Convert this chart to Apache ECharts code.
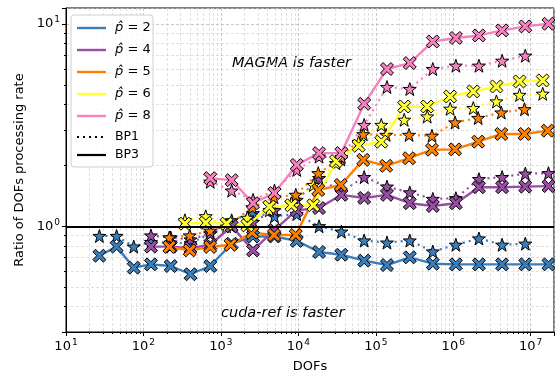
<!DOCTYPE html>
<html>
<head>
<meta charset="utf-8">
<script src="https://cdn.jsdelivr.net/npm/echarts@6/dist/echarts.min.js"></script>
<style>
  html, body { margin: 0; padding: 0; background: #fff; }
  #chart { width: 555px; height: 370px; }
</style>
</head>
<body>
<div id="chart"></div>
<script>
// DOF counts per polynomial degree (meshes refined one direction at a time)
const dofsP2 = [27, 45, 75, 125, 225, 405, 729, 1377, 2601, 4913, 9537, 18513, 35937, 70785, 139425, 274625, 545025, 1081665, 2146689, 4276737, 8520321, 16974593];
const dofsP4 = [125, 225, 405, 729, 1377, 2601, 4913, 9537, 18513, 35937, 70785, 139425, 274625, 545025, 1081665, 2146689, 4276737, 8520321, 16974593];
const dofsP5 = [216, 396, 726, 1331, 2541, 4851, 9261, 18081, 35301, 68921, 136161, 269001, 531441, 1056321, 2099601, 4173281, 8320641, 16589601];
const dofsP6 = [343, 637, 1183, 2197, 4225, 8125, 15625, 30625, 60025, 117649, 232897, 461041, 912673, 1815937, 3613153, 7189057, 14303521];
const dofsP8 = [729, 1377, 2601, 4913, 9537, 18513, 35937, 70785, 139425, 274625, 545025, 1081665, 2146689, 4276737, 8520321, 16974593];

// Speed-up ratios, BP3 (solid)
const bp3P2 = [0.715, 0.793, 0.624, 0.648, 0.636, 0.579, 0.636, 0.82, 0.89, 0.89, 0.846, 0.746, 0.723, 0.676, 0.643, 0.702, 0.653, 0.648, 0.648, 0.648, 0.648, 0.648];
const bp3P4 = [0.793, 0.793, 0.78, 0.81, 1.0, 0.76, 0.96, 1.20, 1.23, 1.43, 1.38, 1.43, 1.30, 1.26, 1.30, 1.56, 1.56, 1.57, 1.58];
const bp3P5 = [0.79, 0.76, 0.79, 0.81, 0.93, 0.905, 0.905, 1.51, 1.60, 2.13, 1.99, 2.17, 2.39, 2.40, 2.62, 2.86, 2.86, 2.97];
const bp3P6 = [1.03, 1.04, 1.03, 1.01, 1.25, 1.27, 1.27, 2.10, 2.50, 2.62, 3.91, 3.91, 4.38, 4.64, 4.91, 5.20, 5.26];
const bp3P8 = [1.73, 1.69, 1.30, 1.46, 2.01, 2.30, 2.30, 4.03, 5.99, 6.41, 8.2, 8.53, 8.78, 9.3, 9.73, 10.03];

// Speed-up ratios, BP1 (dotted)
const bp1P2 = [0.895, 0.895, 0.793, 0.836, 0.83, 0.824, 0.92, 1.07, 1.16, 1.12, 1.15, 1.0, 0.94, 0.85, 0.83, 0.85, 0.75, 0.81, 0.87, 0.81, 0.82];
const bp1P4 = [0.90, 0.88, 0.86, 0.92, 1.0, 1.05, 1.2, 1.35, 1.73, 1.48, 1.75, 1.57, 1.47, 1.365, 1.376, 1.71, 1.75, 1.82, 1.83];
const bp1P5 = [0.88, 0.90, 0.95, 1.03, 1.24, 1.39, 1.43, 1.83, 2.14, 2.85, 2.83, 2.83, 2.80, 3.26, 3.43, 3.65, 3.79];
const bp1P6 = [1.07, 1.12, 1.00, 1.10, 1.20, 1.30, 1.60, 2.05, 2.60, 3.17, 3.36, 3.49, 3.81, 3.84, 4.14, 4.46, 4.52];
const bp1P8 = [1.66, 1.50, 1.35, 1.50, 1.90, 2.21, 2.20, 3.17, 4.88, 4.77, 5.99, 6.22, 6.22, 6.58, 6.97];

const degreeLabels = ['2', '4', '5', '6', '8'];
const benchmarkLabels = ['BP1', 'BP3'];

const colors = ['#3a7ebb', '#984ea3', '#ff7f00', '#ffff33', '#f781bf'];
const degrees = [
  { x: dofsP2, bp3: bp3P2, bp1: bp1P2 },
  { x: dofsP4, bp3: bp3P4, bp1: bp1P4 },
  { x: dofsP5, bp3: bp3P5, bp1: bp1P5 },
  { x: dofsP6, bp3: bp3P6, bp1: bp1P6 },
  { x: dofsP8, bp3: bp3P8, bp1: bp1P8 }
];

const FONT = 'DejaVu Sans';
const crossPath = 'path://M-3,-5 L0,-2 L3,-5 L5,-3 L2,0 L5,3 L3,5 L0,2 L-3,5 L-5,3 L-2,0 L-5,-3 Z';
const starPath = 'path://M0,-10 L2.35,-3.24 L9.51,-3.09 L3.8,1.24 L5.88,8.09 L0,4 L-5.88,8.09 L-3.8,1.24 L-9.51,-3.09 L-2.35,-3.24 Z';
const DOTS = [2, 4];

function isPow10(v) {
  const l = Math.log10(v);
  return Math.abs(l - Math.round(l)) < 1e-6;
}
function powLabel(v) {
  return isPow10(v) ? '{b|10}{s|' + Math.round(Math.log10(v)) + '}' : '';
}
const powRich = {
  b: { fontFamily: FONT, fontSize: 13, color: '#000' },
  s: { fontFamily: FONT, fontSize: 9, color: '#000', padding: [0, 0, 8, 1] }
};

const series = [];
degrees.forEach((d, k) => {
  series.push({
    name: 'BP1 ' + degreeLabels[k], type: 'line', z: 3,
    data: d.x.slice(0, d.bp1.length).map((v, i) => [v, d.bp1[i]]),
    lineStyle: { color: colors[k], width: 2.2, type: DOTS },
    itemStyle: { color: colors[k], borderColor: '#000', borderWidth: 1 },
    symbol: starPath, symbolSize: 13, showSymbol: true
  });
  series.push({
    name: 'BP3 ' + degreeLabels[k], type: 'line', z: 4,
    data: d.x.map((v, i) => [v, d.bp3[i]]),
    lineStyle: { color: colors[k], width: 2.4 },
    itemStyle: { color: colors[k], borderColor: '#000', borderWidth: 1 },
    symbol: crossPath, symbolSize: 13, showSymbol: true
  });
});

// reference line at ratio 1
series.push({
  type: 'line', silent: true, symbol: 'none', z: 2, data: [],
  markLine: {
    silent: true, symbol: 'none', label: { show: false },
    lineStyle: { color: '#000', width: 2.2, type: 'solid' },
    data: [{ yAxis: 1 }]
  }
});

// legend box drawn as graphics
const legendX = 71, legendY = 15;
const legendRows = [28, 50, 72, 94, 116, 137, 155];
const legendItems = [
  { type: 'rect', shape: { x: legendX, y: legendY, width: 82, height: 152, r: 3 },
    style: { fill: 'rgba(255,255,255,0.85)', stroke: '#d0d0d0', lineWidth: 1 }, z: 100 }
];
degreeLabels.forEach((p, k) => {
  const y = legendRows[k];
  legendItems.push({ type: 'line', shape: { x1: 77, y1: y, x2: 106, y2: y },
    style: { stroke: colors[k], lineWidth: 2.4 }, z: 101 });
  legendItems.push({ type: 'text', x: 115, y: y, z: 101,
    style: { text: '{i|p̂} = ' + p, verticalAlign: 'middle', textVerticalAlign: 'middle',
      rich: { i: { font: 'italic 13px "DejaVu Sans"', fill: '#000' } },
      font: '13px "DejaVu Sans"', fill: '#000' } });
});
benchmarkLabels.forEach((b, j) => {
  const y = legendRows[5 + j];
  legendItems.push({ type: 'line', shape: { x1: 77, y1: y, x2: 106, y2: y },
    style: { stroke: '#000', lineWidth: 2.2, lineDash: j === 0 ? DOTS : null }, z: 101 });
  legendItems.push({ type: 'text', x: 115, y: y, z: 101,
    style: { text: b, verticalAlign: 'middle', textVerticalAlign: 'middle', font: '12.5px "DejaVu Sans"', fill: '#000' } });
});

const chart = echarts.init(document.getElementById('chart'), null, { renderer: 'canvas' });
chart.setOption({
  animation: false,
  grid: { left: 66, top: 8, right: 1, bottom: 38, containLabel: false, outerBoundsMode: 'none',
    show: true, borderColor: '#000', borderWidth: 1, backgroundColor: 'transparent' },
  xAxis: {
    type: 'log', logBase: 10, min: 10, max: 2e7,
    name: 'DOFs', nameLocation: 'middle', nameGap: 28,
    nameTextStyle: { fontFamily: FONT, fontSize: 13, color: '#000' },
    axisLine: { lineStyle: { color: '#000', width: 1 } },
    axisTick: { show: true, inside: false, length: 4, lineStyle: { color: '#000' } },
    minorTick: { show: true, splitNumber: 9, length: 2, lineStyle: { color: '#000' } },
    axisLabel: { margin: 6, formatter: powLabel, rich: powRich },
    splitLine: { show: true, lineStyle: { color: '#bbb', type: [3, 2], width: 0.8 } },
    minorSplitLine: { show: true, lineStyle: { color: '#ccc', type: [3, 2], width: 0.6 } }
  },
  yAxis: {
    type: 'log', logBase: 10, min: 0.3, max: 12,
    name: 'Ratio of DOFs processing rate', nameLocation: 'middle', nameGap: 32,
    nameTextStyle: { fontFamily: FONT, fontSize: 13, color: '#000' },
    axisLine: { show: true, lineStyle: { color: '#000', width: 1 } },
    axisTick: { show: true, length: 4, lineStyle: { color: '#000' } },
    minorTick: { show: true, splitNumber: 9, length: 2, lineStyle: { color: '#000' } },
    axisLabel: { margin: 6, formatter: powLabel, rich: powRich },
    splitLine: { show: true, lineStyle: { color: '#bbb', type: [3, 2], width: 0.8 } },
    minorSplitLine: { show: true, lineStyle: { color: '#ccc', type: [3, 2], width: 0.6 } }
  },
  graphic: [
    { type: 'text', left: 232, top: 56, style: { text: 'MAGMA is faster', font: 'italic 14.5px "DejaVu Sans"', fill: '#000' } },
    { type: 'text', left: 221, top: 306, style: { text: 'cuda-ref is faster', font: 'italic 14.5px "DejaVu Sans"', fill: '#000' } }
  ].concat(legendItems.map(it => Object.assign({ silent: true }, it))),
  legend: { show: false },
  series: series
});
</script>
</body>
</html>
